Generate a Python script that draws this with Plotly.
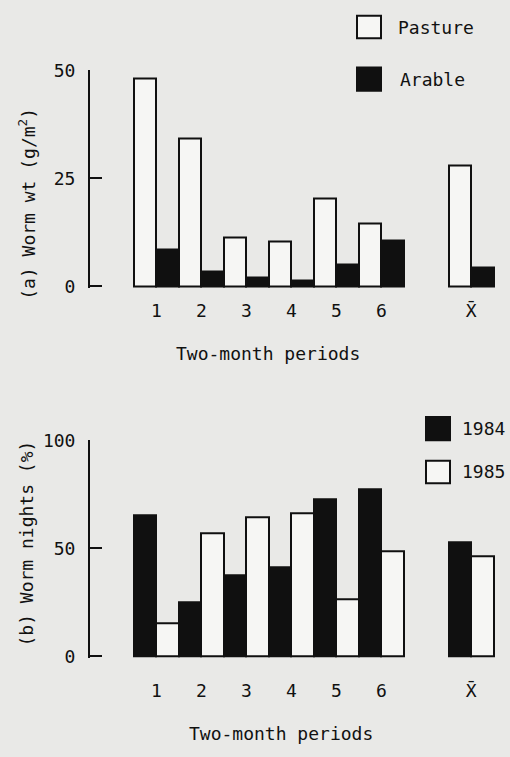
import plotly.graph_objects as go

# ---- data ----
periods = ["1", "2", "3", "4", "5", "6", "X\u0304"]
axis_slots = ["1", "2", "3", "4", "5", "6", " ", "X\u0304"]  # blank slot before the mean
pasture = [48.2, 34.2, 11.4, 10.5, 20.4, 14.5, 28.0]
arable = [8.6, 3.4, 2.1, 1.5, 5.0, 10.7, 4.5]
nights_1984 = [65.4, 25.0, 37.7, 41.4, 72.9, 77.4, 52.6]
nights_1985 = [15.5, 56.8, 64.4, 66.3, 26.3, 48.6, 46.3]

W, H = 510, 757
BG = "#e9e9e7"
WHITE = "#f6f6f4"
BLACK = "#101010"
FONT = "DejaVu Sans Mono"
FS = 18


def py(p):
    return 1 - p / H


def px(p):
    return p / W


fig = go.Figure()

fig.add_trace(go.Bar(x=periods, y=pasture, name="Pasture", marker=dict(color=WHITE, line=dict(color=BLACK, width=2)),
                     xaxis="x", yaxis="y", showlegend=False))
fig.add_trace(go.Bar(x=periods, y=arable, name="Arable", marker=dict(color=BLACK, line=dict(color=BLACK, width=2)),
                     xaxis="x", yaxis="y", showlegend=False))
fig.add_trace(go.Bar(x=periods, y=nights_1984, name="1984", marker=dict(color=BLACK, line=dict(color=BLACK, width=2)),
                     xaxis="x2", yaxis="y2", showlegend=False))
fig.add_trace(go.Bar(x=periods, y=nights_1985, name="1985", marker=dict(color=WHITE, line=dict(color=BLACK, width=2)),
                     xaxis="x2", yaxis="y2", showlegend=False))

xdom = [px(89), px(500)]
xcommon = dict(domain=xdom, type="category", categoryorder="array", categoryarray=axis_slots,
               tickmode="array", tickvals=periods, ticktext=periods,
               range=[-1.496, 7.638], showline=False, showgrid=False, zeroline=False, ticks="",
               tickfont=dict(family=FONT, size=FS, color="#111"), fixedrange=True)
ycommon = dict(showline=True, linecolor=BLACK, linewidth=2, ticks="inside", ticklen=12, tickwidth=2,
               tickcolor=BLACK, showgrid=False, zeroline=False,
               tickfont=dict(family=FONT, size=FS, color="#111"), ticklabelstandoff=9, fixedrange=True)

fig.update_layout(
    width=W, height=H, margin=dict(l=0, r=0, t=0, b=0),
    paper_bgcolor=BG, plot_bgcolor=BG,
    barmode="group", bargap=0, bargroupgap=0,
    xaxis=dict(anchor="y", ticklabelstandoff=10, **xcommon),
    xaxis2=dict(anchor="y2", ticklabelstandoff=20, **xcommon),
    yaxis=dict(anchor="free", position=px(89), domain=[py(284.5), py(61)], range=[-0.35, 50],
               tickvals=[0, 25, 50], ticktext=["0", "25", "50"], **ycommon),
    yaxis2=dict(anchor="free", position=px(89), domain=[py(664.5), py(441)], range=[-0.7, 100],
                tickvals=[0, 50, 100], **ycommon),
    font=dict(family=FONT, size=FS, color="#111"),
)

# axis titles
tfont = dict(family=FONT, size=FS, color="#111")
fig.add_annotation(text="(a) Worm wt (g/m<sup>2</sup>)", x=px(27), y=py(198), xref="paper", yref="paper",
                   textangle=-90, showarrow=False, font=tfont, xanchor="center", yanchor="middle")
fig.add_annotation(text="(b) Worm nights (%)", x=px(27), y=py(547), xref="paper", yref="paper",
                   textangle=-90, showarrow=False, font=tfont, xanchor="center", yanchor="middle")
fig.add_annotation(text="Two-month periods", x=px(268), y=py(352), xref="paper", yref="paper",
                   showarrow=False, font=tfont, xanchor="center", yanchor="middle")
fig.add_annotation(text="Two-month periods", x=px(281), y=py(742), xref="paper", yref="paper",
                   showarrow=False, font=tfont, xanchor="center", yanchor="middle")

# legends (boxes + labels)
legend_items = [
    (357, 5, 28, WHITE, "Pasture", 396),
    (357, 58, 82, BLACK, "Arable", 398),
    (426, 417, 441, BLACK, "1984", 460),
    (426, 462, 485, WHITE, "1985", 460),
]
for x0, y0, y1, fill, label, tx in legend_items:
    fig.add_shape(type="rect", xref="paper", yref="paper", x0=px(x0), x1=px(x0 + 24), y0=py(y1), y1=py(y0),
                  fillcolor=fill, line=dict(color=BLACK, width=2))
    fig.add_annotation(text=label, x=px(tx), y=py((y0 + y1) / 2), xref="paper", yref="paper",
                       showarrow=False, font=tfont, xanchor="left", yanchor="middle")

fig.write_html("out.html")
